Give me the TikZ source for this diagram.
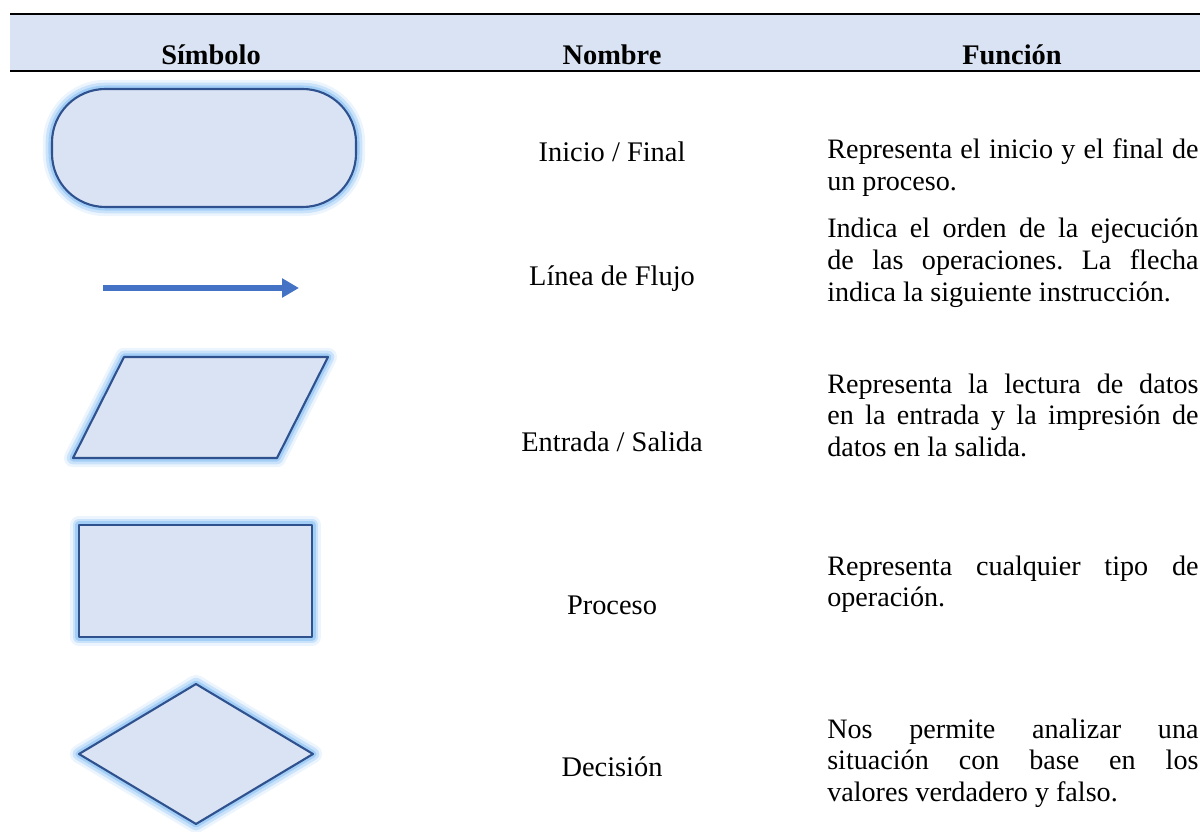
\documentclass[tikz,border=0pt]{standalone}
\usepackage{fontspec}
\setmainfont{Liberation Serif}
\usetikzlibrary{arrows.meta}
\frenchspacing

\definecolor{headblue}{RGB}{218,227,243}
\definecolor{edgeblue}{RGB}{47,82,143}
\definecolor{glowblue}{RGB}{125,185,242}
\definecolor{flowblue}{RGB}{68,114,196}

\begin{document}
\begin{tikzpicture}[x=0.025cm, y=-0.025cm]


\tikzset{
  HeadStyle/.style = { anchor = base, inner sep = 0pt,
                       font = \fontsize{20.2}{22.5}\selectfont\bfseries },
  NameStyle/.style = { anchor = base, inner sep = 0pt,
                       font = \fontsize{20.2}{22.5}\selectfont },
  TextStyle/.style = { anchor = base west, inner sep = 0pt, text width = 264pt,
                       align = justify, font = \fontsize{20}{22.5}\selectfont },
  GlowStyle/.style = { draw = glowblue, line width = #1, line join = round },
  SymbolStyle/.style = { draw = edgeblue, line width = 1.5pt, fill = headblue,
                       line join = round,
                       preaction = {GlowStyle = 13pt, opacity = 0.15},
                       preaction = {GlowStyle = 9pt, opacity = 0.3},
                       preaction = {GlowStyle = 5pt, opacity = 0.5} },
  FlowStyle/.style = { draw = flowblue, line width = 4pt,
                       -{Triangle[length = 12pt, width = 13pt]} } }
  \useasboundingbox (0,0) rectangle (1200,832);

  \fill[headblue] (10,14) rectangle (1200,71);
  \draw[line width = 1.1pt] (10,14) -- (1200,14);
  \draw[line width = 1.1pt] (10,71) -- (1200,71);
  \node[HeadStyle] (hsimbolo) at (211, 65) {Símbolo};
  \node[HeadStyle] (hnombre) at (612, 65) {Nombre};
  \node[HeadStyle] (hfuncion) at (1012, 65) {Función};

  
  \draw[SymbolStyle, rounded corners = 38pt] (52,89) rectangle (356,207);
  \coordinate (f1) at (103,288);
  \coordinate (f2) at (299,288);
  \draw[FlowStyle] (f1) -- (f2);
  \draw[SymbolStyle] (124,357) -- (328,357) -- (277,458) -- (73,458) -- cycle;
  \draw[SymbolStyle] (79,525) rectangle (312,637);
  \draw[SymbolStyle] (196,684) -- (313,754) -- (196,824) -- (79,754) -- cycle;

  
  \node[NameStyle] (ninicio) at (612, 162) {Inicio / Final};
  \node[NameStyle] (nflujo) at (612, 286) {Línea de Flujo};
  \node[NameStyle] (nentrada) at (612, 451) {Entrada / Salida};
  \node[NameStyle] (nproceso) at (612, 614) {Proceso};
  \node[NameStyle] (ndecision) at (612, 776) {Decisión};

  
  \node[TextStyle] (finicio) at (827, 159)
    {Representa el inicio y el final de\linebreak un proceso.};
  \node[TextStyle] (fflujo) at (827, 238)
    {Indica el orden de la ejecución\linebreak de las operaciones. La flecha\linebreak
     indica la siguiente instrucción.};
  \node[TextStyle] (fentrada) at (827, 393)
    {Representa la lectura de datos\linebreak en la entrada y la impresión de\linebreak
     datos en la salida.};
  \node[TextStyle] (fproceso) at (827, 575)
    {Representa cualquier tipo de\linebreak operación.};
  \node[TextStyle] (fdecision) at (827, 738)
    {Nos permite analizar una\linebreak situación con base en los\linebreak
     valores verdadero y falso.};

\end{tikzpicture}
\end{document}
